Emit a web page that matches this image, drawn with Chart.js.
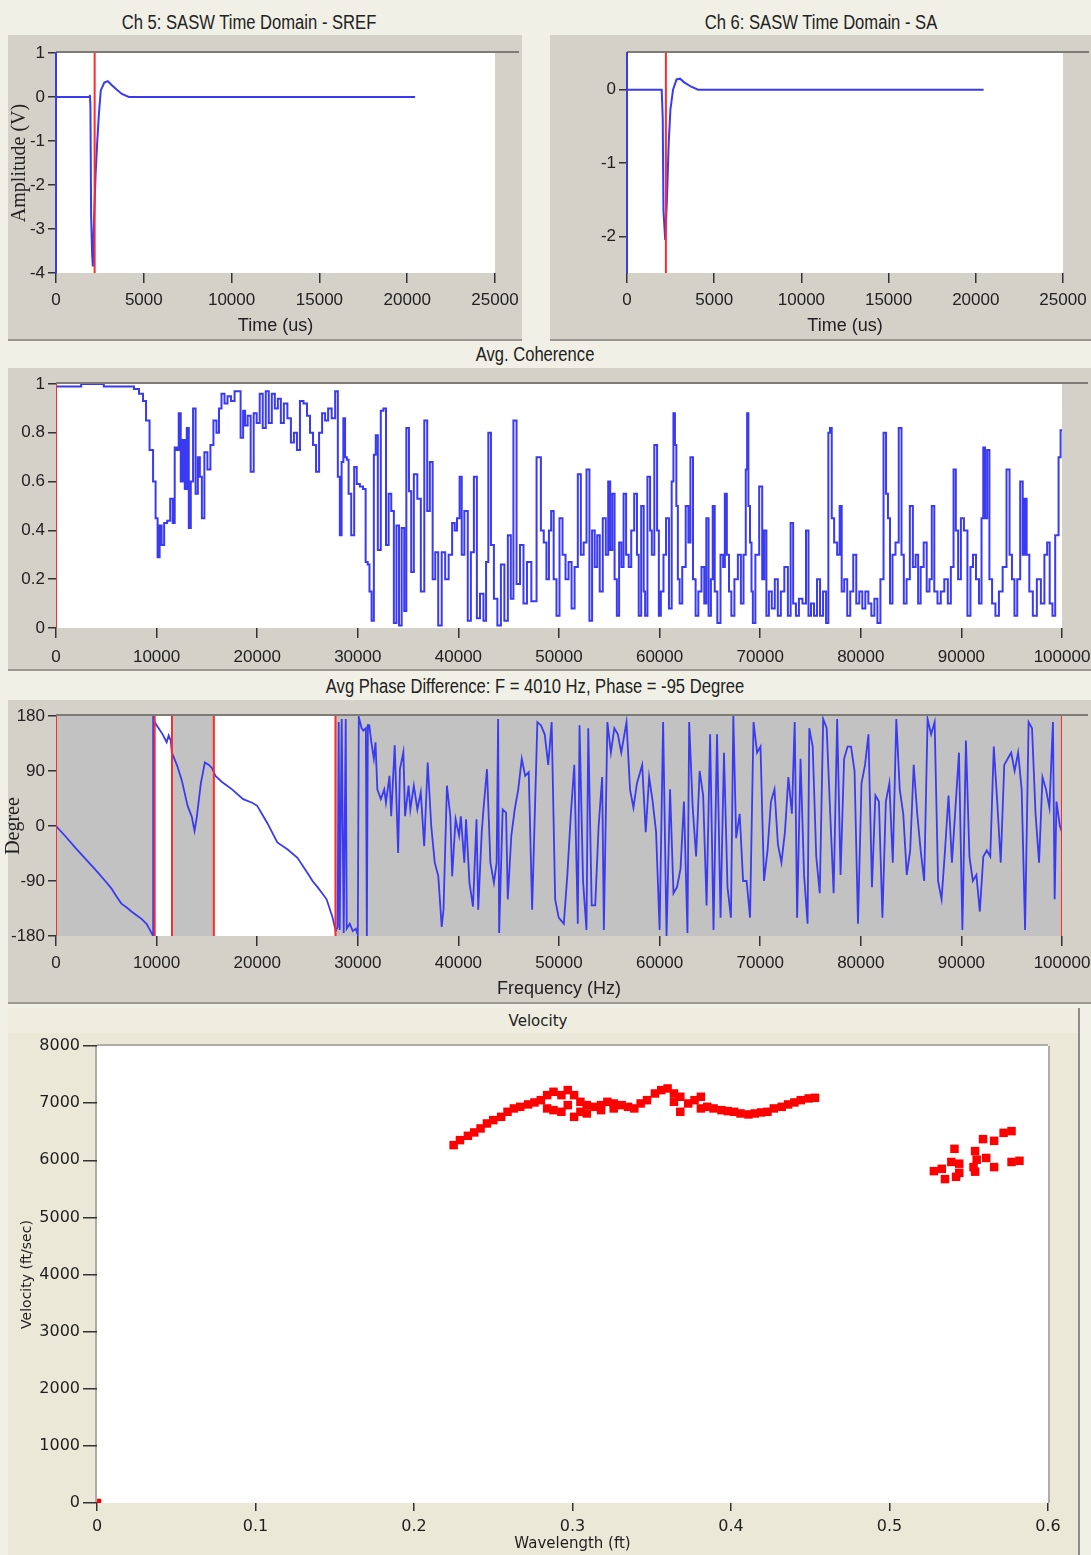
<!DOCTYPE html>
<html>
<head>
<meta charset="utf-8">
<title>SASW</title>
<script src="https://cdn.jsdelivr.net/npm/chart.js@4.4.1/dist/chart.umd.min.js"></script>
<style>
  body { margin: 0; width: 1091px; height: 1555px; position: relative; overflow: hidden; background: #f1f0e6;
         font-family: "Liberation Sans", Arial, sans-serif; }
  .panel { position: absolute; background: #d4d1c9; border-bottom: 2px solid #9a9890; box-sizing: border-box; }
  .cap { position: absolute; color: #222; font-size: 20px; line-height: 24px; text-align: center; white-space: nowrap;
         transform: scaleX(0.83); transform-origin: center; }
  .box { position: absolute; }
</style>
</head>
<body>
<div class="panel" style="left:8px;top:35px;width:514px;height:306px"></div>
<div class="panel" style="left:550px;top:35px;width:541px;height:306px"></div>
<div class="panel" style="left:8px;top:368px;width:1083px;height:303px"></div>
<div class="panel" style="left:8px;top:700px;width:1083px;height:304px"></div>
<div style="position:absolute;left:8px;top:1008px;width:1070px;height:547px;background:#ebe8d7;border-right:2px solid #8e8c86"></div>
<div style="position:absolute;left:8px;top:1008px;width:1070px;height:25px;background:#efeddf"></div>

<div class="cap" style="left:49px;top:10px;width:400px">Ch 5: SASW Time Domain - SREF</div>
<div class="cap" style="left:621px;top:10px;width:400px">Ch 6: SASW Time Domain - SA</div>
<div class="cap" style="left:335px;top:342px;width:400px">Avg. Coherence</div>
<div class="cap" style="left:235px;top:674px;width:600px">Avg Phase Difference: F = 4010 Hz, Phase = -95 Degree</div>
<div class="cap" style="left:438px;top:1011px;width:200px;transform:none;font-family:'DejaVu Sans',Verdana,sans-serif;font-size:15px;line-height:20px">Velocity</div>

<div class="box" style="left:8px;top:35px;width:514px;height:305px"><canvas id="ch5"></canvas></div>
<div class="box" style="left:550px;top:35px;width:541px;height:305px"><canvas id="ch6"></canvas></div>
<div class="box" style="left:8px;top:368px;width:1083px;height:302px"><canvas id="coherence"></canvas></div>
<div class="box" style="left:2px;top:700px;width:1089px;height:303px"><canvas id="phase"></canvas></div>
<div class="box" style="left:8px;top:1033px;width:1070px;height:522px"><canvas id="velocity"></canvas></div>

<script>
var sans = '"Liberation Sans", Arial, sans-serif';
var serif = '"Liberation Serif", "Times New Roman", serif';
var plain = '"DejaVu Sans", Verdana, sans-serif';

// time domain, both channels
var ch5Time = [0, 1900, 1930, 1960, 2000, 2060, 2100, 2150, 2250, 2300, 2350, 2450, 2550, 2750, 2950, 3150, 3450, 3750, 4150, 20450];
var ch5Amp = [0, 0, 0.05, -0.2, -2.7, -3.6, -3.85, -3.0, -1.8, -1.4, -1.0, -0.35, 0.15, 0.33, 0.36, 0.28, 0.17, 0.07, 0, 0];
var ch5Cursor = 2200;
var ch6Time = [0, 1990, 2050, 2090, 2190, 2290, 2390, 2490, 2640, 2840, 3040, 3280, 3680, 4080, 20450];
var ch6Amp = [0, 0, -0.4, -1.64, -2.05, -1.5, -0.73, -0.27, 0, 0.14, 0.15, 0.1, 0.04, 0, 0];
var ch6Cursor = 2230;
var timeTicks = [0, 5000, 10000, 15000, 20000, 25000];
var ch5AmpTicks = [1, 0, -1, -2, -3, -4];
var ch6AmpTicks = [0, -1, -2];

// coherence
var cohFreq = [
  0, 500, 1000, 2000, 3000, 3500, 4500, 5000, 6000, 7000,
  7500, 8000, 8500, 8800, 9100, 9500, 9800, 10000, 10200, 10400,
  10600, 10900, 11200, 11500, 11700, 11900, 12100, 12300, 12500, 12700,
  12900, 13100, 13300, 13500, 13750, 14000, 14200, 14400, 14600, 14900,
  15200, 15500, 15800, 16100, 16300, 16600, 16900, 17200, 17600, 17900,
  18200, 18500, 18700, 18900, 19200, 19500, 19800, 20100, 20400, 20700,
  21000, 21300, 21600, 21900, 22200, 22500, 22800, 23200, 23500, 23800,
  24100, 24400, 24800, 25100, 25400, 25700, 26000, 26300, 26600, 26900,
  27200, 27600, 27900, 28130, 28300, 28480, 28650, 28820, 29000, 29170,
  29520, 29760, 30030, 30380, 30660, 30900, 31070, 31250, 31490, 31700,
  31870, 32110, 32460, 32630, 32980, 33150, 33500, 33670, 34010, 34190,
  34530, 34700, 34950, 35220, 35400, 35740, 36090, 36440, 36780, 37020,
  37300, 37580, 37820, 38170, 38510, 38860, 39200, 39550, 39720, 40000,
  40240, 40420, 40760, 41100, 41380, 41700, 41970, 42320, 42660, 42840,
  43110, 43360, 43700, 44050, 44400, 44740, 45090, 45330, 45610, 45950,
  46300, 46640, 46990, 47510, 48030, 48370, 48600, 48900, 49100, 49340,
  49600, 49900, 50200, 50500, 50800, 51100, 51400, 51700, 52040, 52300,
  52600, 52870, 53180, 53400, 53700, 53900, 54200, 54500, 54800, 54980,
  55200, 55400, 55650, 55850, 56100, 56300, 56540, 56800, 57060, 57300,
  57650, 57850, 58000, 58340, 58500, 58620, 58960, 59150, 59300, 59650,
  59850, 60000, 60250, 60520, 60760, 61100, 61300, 61450, 61600, 61730,
  61900, 62080, 62420, 62770, 62950, 63180, 63460, 63700, 64000, 64330,
  64550, 64740, 65000, 65200, 65360, 65600, 65880, 66230, 66400, 66570,
  66800, 67000, 67270, 67600, 67960, 68200, 68480, 68650, 68750, 68900,
  69070, 69200, 69340, 69700, 70100, 70300, 70500, 70730, 71000, 71300,
  71600, 71900, 72200, 72600, 72900, 73150, 73400, 73700, 74000, 74400,
  74700, 74900, 75200, 75500, 75800, 76100, 76400, 76700, 76850, 77020,
  77200, 77500, 77800, 78000, 78200, 78500, 78800, 79100, 79400, 79700,
  80000, 80300, 80600, 80900, 81200, 81500, 81800, 82100, 82420, 82600,
  82800, 83000, 83300, 83600, 83940, 84150, 84400, 84700, 85050, 85300,
  85600, 85800, 86100, 86400, 86700, 86950, 87160, 87450, 87800, 88100,
  88500, 88800, 89100, 89340, 89550, 89800, 90100, 90400, 90800, 91000,
  91300, 91600, 91900, 92100, 92250, 92450, 92670, 92900, 93200, 93560,
  93900, 94300, 94670, 94900, 95150, 95400, 95700, 95990, 96200, 96370,
  96600, 96900, 97300, 97700, 98100, 98400, 98650, 98900, 99200, 99450,
  99600, 99720, 100000
];
var cohVal = [
  0.99, 0.99, 0.99, 0.99, 1.0, 1.0, 1.0, 0.99, 0.99, 0.99,
  0.99, 0.98, 0.96, 0.93, 0.85, 0.73, 0.6, 0.45, 0.29, 0.42,
  0.34, 0.43, 0.44, 0.53, 0.43, 0.74, 0.73, 0.88, 0.6, 0.77,
  0.57, 0.82, 0.41, 0.6, 0.9, 0.55, 0.7, 0.62, 0.45, 0.72,
  0.65, 0.75, 0.85, 0.8, 0.9, 0.96, 0.92, 0.95, 0.93, 0.97,
  0.97, 0.78, 0.89, 0.83, 0.87, 0.64, 0.88, 0.84, 0.96, 0.82,
  0.97, 0.84, 0.96, 0.9, 0.94, 0.84, 0.92, 0.86, 0.76, 0.8,
  0.73, 0.93, 0.92, 0.87, 0.8, 0.75, 0.64, 0.8, 0.88, 0.85,
  0.9, 0.86, 0.97, 0.62, 0.38, 0.68, 0.86, 0.7, 0.69, 0.55,
  0.38, 0.66, 0.59, 0.58, 0.57, 0.27, 0.26, 0.15, 0.03, 0.71,
  0.79, 0.32, 0.89, 0.9, 0.34, 0.55, 0.48, 0.02, 0.42, 0.01,
  0.41, 0.07, 0.82, 0.56, 0.23, 0.63, 0.53, 0.15, 0.85, 0.48,
  0.68, 0.2, 0.31, 0.01, 0.31, 0.2, 0.3, 0.43, 0.4, 0.45,
  0.62, 0.3, 0.48, 0.03, 0.31, 0.62, 0.04, 0.14, 0.03, 0.27,
  0.8, 0.34, 0.12, 0.01, 0.26, 0.03, 0.38, 0.12, 0.85, 0.18,
  0.34, 0.1, 0.27, 0.11, 0.7, 0.4, 0.35, 0.2, 0.4, 0.48,
  0.2, 0.05, 0.45, 0.3, 0.2, 0.27, 0.08, 0.25, 0.63, 0.3,
  0.35, 0.65, 0.03, 0.4, 0.25, 0.38, 0.15, 0.45, 0.3, 0.6,
  0.32, 0.55, 0.2, 0.05, 0.35, 0.25, 0.55, 0.3, 0.25, 0.4,
  0.55, 0.3, 0.05, 0.5, 0.15, 0.05, 0.62, 0.4, 0.3, 0.75,
  0.4, 0.05, 0.15, 0.3, 0.45, 0.08, 0.6, 0.88, 0.75, 0.5,
  0.2, 0.1, 0.25, 0.5, 0.35, 0.7, 0.2, 0.05, 0.15, 0.25,
  0.1, 0.45, 0.05, 0.2, 0.5, 0.15, 0.02, 0.3, 0.25, 0.55,
  0.3, 0.15, 0.05, 0.2, 0.3, 0.1, 0.3, 0.65, 0.88, 0.5,
  0.35, 0.15, 0.02, 0.3, 0.58, 0.2, 0.4, 0.05, 0.15, 0.08,
  0.2, 0.05, 0.15, 0.25, 0.05, 0.43, 0.1, 0.05, 0.12, 0.1,
  0.4, 0.05, 0.1, 0.05, 0.2, 0.05, 0.15, 0.02, 0.8, 0.82,
  0.45, 0.35, 0.3, 0.5, 0.15, 0.2, 0.05, 0.15, 0.3, 0.1,
  0.15, 0.08, 0.15, 0.1, 0.05, 0.12, 0.02, 0.2, 0.8, 0.55,
  0.45, 0.1, 0.3, 0.35, 0.82, 0.3, 0.1, 0.2, 0.5, 0.25,
  0.3, 0.1, 0.25, 0.35, 0.15, 0.2, 0.5, 0.15, 0.1, 0.15,
  0.2, 0.1, 0.25, 0.65, 0.4, 0.2, 0.45, 0.4, 0.05, 0.25,
  0.3, 0.2, 0.1, 0.45, 0.74, 0.45, 0.73, 0.2, 0.1, 0.05,
  0.15, 0.25, 0.65, 0.3, 0.2, 0.05, 0.2, 0.6, 0.3, 0.53,
  0.3, 0.15, 0.05, 0.2, 0.1, 0.3, 0.35, 0.1, 0.05, 0.38,
  0.38, 0.7, 0.81
];
var cohCursors = [0];
var freqTicks = [0, 10000, 20000, 30000, 40000, 50000, 60000, 70000, 80000, 90000, 100000];
var cohTicks = [0, 0.2, 0.4, 0.6, 0.8, 1];

// phase difference
var phaseFreq = [
  0, 1000, 2000, 3000, 4000, 5000, 5500, 6000, 6500, 7000,
  7500, 8000, 8500, 9000, 9400, 9650, 9660, 9800, 10200, 10600,
  11000, 11200, 11400, 11520, 12040, 12500, 13080, 13500, 13770, 14000,
  14400, 14800, 15200, 15500, 15850, 16500, 17500, 18600, 19500, 20000,
  21000, 22000, 23000, 24000, 25000, 25500, 26000, 26900, 27500, 27800,
  28000, 28100, 28200, 28400, 28600, 28800, 28900, 29200, 29500, 29800,
  30000, 30100, 30380, 30550, 30800, 30900, 31000, 31140, 31350, 31600,
  31760, 31940, 32290, 32630, 32800, 33150, 33320, 33670, 34010, 34190,
  34530, 34700, 35050, 35220, 35570, 35920, 36260, 36600, 36950, 37300,
  37650, 38000, 38340, 38520, 38860, 39200, 39380, 39720, 40070, 40240,
  40590, 40760, 41100, 41450, 41800, 41970, 42320, 42490, 42840, 43180,
  43530, 43800, 43950, 44050, 44400, 44740, 44910, 45260, 45600, 45950,
  46300, 46640, 46990, 47330, 47850, 48200, 48580, 48930, 49270, 49620,
  49970, 50480, 50830, 51180, 51520, 51870, 52040, 52390, 52730, 52910,
  53250, 53600, 53940, 54290, 54460, 54810, 55160, 55500, 55850, 56190,
  56710, 57060, 57400, 57750, 58270, 58620, 58960, 59310, 59650, 60000,
  60350, 60690, 61040, 61380, 61730, 62080, 62420, 62770, 62940, 63290,
  63630, 63980, 64330, 64670, 65020, 65360, 65710, 66060, 66400, 66750,
  67090, 67330, 67610, 67960, 68300, 68650, 68990, 69340, 69690, 70030,
  70380, 70730, 71070, 71420, 71760, 72110, 72460, 72800, 73150, 73430,
  73670, 74010, 74360, 74710, 74880, 75220, 75570, 75920, 76260, 76610,
  76960, 77300, 77650, 77990, 78340, 78690, 79030, 79380, 79720, 80070,
  80420, 80760, 81110, 81450, 81800, 82150, 82490, 82840, 83180, 83530,
  83870, 84220, 84570, 84910, 85260, 85610, 85950, 86300, 86640, 86990,
  87340, 87680, 88030, 88370, 88720, 89060, 89410, 89760, 90100, 90450,
  90800, 91140, 91490, 91830, 92180, 92530, 92870, 93220, 93560, 93910,
  94260, 94600, 94950, 95290, 95640, 95990, 96330, 96680, 97020, 97370,
  97720, 98060, 98410, 98750, 99100, 99270, 99450, 99790, 100000
];
var phaseDeg = [
  0, -18, -37, -55, -73, -92, -102, -115, -127, -133,
  -140, -146, -152, -160, -172, -180, 180, 170, 160, 150,
  137, 148, 140, 120, 99, 75, 33, 15, -8, 15,
  70, 104, 100, 95, 82, 72, 60, 44, 38, 33,
  5, -27, -38, -52, -77, -90, -100, -120, -150, -172,
  -165, 170, -170, 175, -175, 175, -168, -160, -172, -168,
  -178, 178, 160, 156, 160, -180, 165, 165, 137, 110,
  137, 60, 44, 60, 38, 82, 16, 132, -44, 93,
  121, 16, 66, 27, 66, 27, 55, -33, 104, 0,
  -60, -82, -165, -137, 66, 16, -82, 11, -16, 16,
  -60, 11, -93, -132, 11, -137, -10, 27, 93, -60,
  -93, -60, 175, -175, 27, 22, -120, -16, 27, 60,
  110, 82, 88, -137, 170, 165, 150, 100, 170, -120,
  -150, -160, -80, 20, 100, -160, 165, -90, -170, 160,
  -130, -130, 0, 80, -170, 170, 120, 160, 150, 120,
  170, 60, 30, 70, 100, -10, 80, 40, -10, -170,
  170, -180, 60, -110, -100, -70, 40, -175, 170, 30,
  -50, 90, 50, -130, 150, -170, 150, -150, 120, -100,
  -150, 180, -20, 20, -90, -90, -150, 170, 120, 130,
  -90, -40, 40, 60, -30, -60, -10, 80, 20, 170,
  -150, 110, -80, -160, 160, 130, -50, -110, 175, 160,
  20, -110, 175, -80, 110, 130, 130, 90, -160, 70,
  100, 150, -100, 50, 40, -150, 40, 70, -60, 175,
  60, 20, -80, -40, 100, 20, -40, -90, 175, 150,
  170, -90, -120, -40, 50, -60, 30, 120, -170, 140,
  -50, -90, -80, -140, -50, -40, -50, 130, 40, -60,
  100, 110, 120, 90, 120, 60, -170, 170, 160, 20,
  -60, 80, 60, 30, 170, -120, 40, 0, -10
];
var phaseCursors = [0, 9810, 11530, 15690, 27780, 100000];
var phaseBands = [[9810, 11530], [15690, 27780]];
var phaseTicks = [180, 90, 0, -90, -180];

// dispersion: wavelength (ft) vs velocity (ft/sec)
var velWave = [
  0, 0.225, 0.229, 0.234, 0.238, 0.242, 0.246, 0.250, 0.255, 0.259,
  0.263, 0.267, 0.272, 0.276, 0.280, 0.284, 0.284, 0.288, 0.288, 0.293,
  0.293, 0.297, 0.297, 0.301, 0.301, 0.305, 0.305, 0.309, 0.309, 0.314,
  0.318, 0.318, 0.322, 0.326, 0.326, 0.331, 0.335, 0.339, 0.343, 0.347,
  0.352, 0.356, 0.360, 0.364, 0.364, 0.368, 0.368, 0.373, 0.377, 0.381,
  0.381, 0.385, 0.389, 0.394, 0.398, 0.402, 0.406, 0.411, 0.415, 0.419,
  0.423, 0.427, 0.432, 0.436, 0.440, 0.444, 0.449, 0.453,
  0.577, 0.572, 0.566, 0.559, 0.541, 0.554, 0.561, 0.555, 0.539, 0.544,
  0.553, 0.566, 0.577, 0.582, 0.533, 0.528, 0.544, 0.554, 0.535, 0.542
];
var velSpeed = [
  0, 6265, 6352, 6428, 6487, 6557, 6644, 6702, 6760, 6848,
  6907, 6935, 6977, 7012, 7052, 7140, 6907, 7198, 6877, 7140,
  6848, 7228, 6965, 7140, 6760, 7023, 6848, 6965, 6819, 6935,
  6965, 6877, 7023, 6994, 6907, 6965, 6935, 6907, 6994, 7052,
  7169, 7228, 7257, 7169, 7023, 6848, 7111, 6994, 7052, 7111,
  6907, 6935, 6907, 6877, 6860, 6848, 6819, 6802, 6819, 6837,
  6848, 6907, 6935, 6977, 7012, 7052, 7082, 7093,
  6510, 6480, 6340, 6370, 6200, 6160, 6040, 6010, 5970, 5940,
  5880, 5880, 5970, 5990, 5850, 5810, 5780, 5800, 5670, 5710
];
var waveTicks = [0, 0.1, 0.2, 0.3, 0.4, 0.5, 0.6];
var speedTicks = [0, 1000, 2000, 3000, 4000, 5000, 6000, 7000, 8000];

var blue = '#3a3af2';
var red = '#ff2a2a';

function toPoints(xs, ys) {
  return xs.map(function (x, i) { return { x: x, y: ys[i] }; });
}

function cursorLine(x, y0, y1) {
  return { data: [{ x: x, y: y0 }, { x: x, y: y1 }], borderColor: red, borderWidth: 2, pointRadius: 0 };
}

function signalLine(xs, ys, width, stepped) {
  return { data: toPoints(xs, ys), borderColor: blue, borderWidth: width, pointRadius: 0, stepped: stepped || false };
}

// white (or gray) plot area, optional white bands, and the sunken frame line
var plotFrame = {
  id: 'plotFrame',
  beforeDraw: function (chart, args, opts) {
    var a = chart.chartArea, ctx = chart.ctx;
    ctx.save();
    ctx.fillStyle = opts.fill;
    ctx.fillRect(a.left, a.top, a.right - a.left, a.bottom - a.top);
    if (opts.bands) {
      var xs = chart.scales.x;
      ctx.fillStyle = '#ffffff';
      opts.bands.forEach(function (b) {
        var x0 = xs.getPixelForValue(b[0]), x1 = xs.getPixelForValue(b[1]);
        ctx.fillRect(x0, a.top, x1 - x0, a.bottom - a.top);
      });
    }
    ctx.strokeStyle = opts.edge;
    ctx.lineWidth = 2;
    ctx.beginPath();
    ctx.moveTo(a.left, a.top - 1);
    ctx.lineTo(a.right + (opts.extend || 0), a.top - 1);
    if (opts.sides) {
      ctx.moveTo(a.left - 1, a.top);
      ctx.lineTo(a.left - 1, a.bottom);
      ctx.moveTo(a.right + 1, a.top);
      ctx.lineTo(a.right + 1, a.bottom);
    }
    ctx.stroke();
    ctx.restore();
  }
};

function axis(tickList, min, max, o) {
  return {
    type: 'linear',
    min: min,
    max: max,
    afterBuildTicks: function (s) {
      s.ticks = tickList.map(function (v) { return { value: v }; });
    },
    afterFit: function (s) {
      if (o.width) s.width = o.width;
      if (o.height) s.height = o.height;
      // labels may hang into the layout padding, don't let them shrink the plot
      s.paddingLeft = 0;
      s.paddingRight = 0;
      s.paddingTop = 0;
      s.paddingBottom = 0;
    },
    grid: { drawOnChartArea: false, drawTicks: true, tickLength: o.tickLength || 8, color: o.tickColor || '#333', lineWidth: 1.5 },
    border: { display: !!o.border, color: o.border, width: 2 },
    ticks: {
      autoSkip: false, maxRotation: 0, padding: o.pad || 3, color: o.color || '#222', font: o.font,
      callback: function (v) { return String(v); }
    },
    title: o.title
      ? { display: true, text: o.title, color: o.color || '#222', font: o.titleFont, padding: o.titlePad || 0 }
      : { display: false }
  };
}

function makeChart(id, type, datasets, scales, pad, frame) {
  return new Chart(document.getElementById(id), {
    type: type,
    data: { datasets: datasets },
    options: {
      animation: false,
      responsive: true,
      maintainAspectRatio: false,
      events: [],
      parsing: false,
      layout: { padding: pad },
      plugins: { legend: { display: false }, tooltip: { enabled: false }, plotFrame: frame },
      scales: scales,
      elements: { line: { tension: 0 } }
    },
    plugins: [plotFrame]
  });
}

var tickFont = { family: sans, size: 17 };
var titleFont = { family: sans, size: 18 };
var serifFont = { family: serif, size: 20 };

makeChart('ch5', 'line',
  [cursorLine(ch5Cursor, -4, 1), signalLine(ch5Time, ch5Amp, 2)],
  {
    x: axis(timeTicks, 0, 25000, { height: 64, tickLength: 10, pad: 7, font: tickFont, title: 'Time (us)', titleFont: titleFont }),
    y: axis(ch5AmpTicks, -4, 1, { width: 48, font: tickFont, border: blue, title: 'Amplitude (V)', titleFont: serifFont })
  },
  { left: 0, top: 18, right: 27, bottom: 3 },
  { fill: '#ffffff', edge: '#7d7b76', extend: 24 });

makeChart('ch6', 'line',
  [cursorLine(ch6Cursor, -2.5, 0.5), signalLine(ch6Time, ch6Amp, 2)],
  {
    x: axis(timeTicks, 0, 25000, { height: 64, tickLength: 10, pad: 7, font: tickFont, title: 'Time (us)', titleFont: titleFont }),
    y: axis(ch6AmpTicks, -2.5, 0.5, { width: 77, font: tickFont, border: blue })
  },
  { left: 0, top: 18, right: 28, bottom: 3 },
  { fill: '#ffffff', edge: '#7d7b76', extend: 26 });

makeChart('coherence', 'line',
  cohCursors.map(function (f) { return cursorLine(f, 0, 1); }).concat([signalLine(cohFreq, cohVal, 2, 'middle')]),
  {
    x: axis(freqTicks, 0, 100000, { height: 40, tickLength: 10, pad: 9, font: tickFont }),
    y: axis(cohTicks, 0, 1, { width: 48, font: tickFont })
  },
  { left: 0, top: 16, right: 29, bottom: 2 },
  { fill: '#ffffff', edge: '#7d7b76', extend: 26 });

makeChart('phase', 'line',
  phaseCursors.map(function (f) { return cursorLine(f, -180, 180); }).concat([signalLine(phaseFreq, phaseDeg, 1.8)]),
  {
    x: axis(freqTicks, 0, 100000, { height: 64, tickLength: 10, pad: 7, font: tickFont, title: 'Frequency (Hz)', titleFont: titleFont }),
    y: axis(phaseTicks, -180, 180, { width: 54, font: tickFont, title: 'Degree', titleFont: serifFont })
  },
  { left: 0, top: 16, right: 29, bottom: 3 },
  { fill: '#c2c2c2', bands: phaseBands, edge: '#7d7b76', extend: 26 });

makeChart('velocity', 'scatter',
  [{ data: toPoints(velWave, velSpeed), pointStyle: 'rect', pointRadius: 6, backgroundColor: '#ff0000', borderColor: '#ff0000', borderWidth: 0 }],
  {
    x: axis(waveTicks, 0, 0.6, { height: 50, tickLength: 8, pad: 6, color: '#1e1e1e', font: { family: plain, size: 16 },
      title: 'Wavelength (ft)', titleFont: { family: plain, size: 15 } }),
    y: axis(speedTicks, 0, 8000, { width: 89, tickLength: 14, pad: 3, color: '#1e1e1e', font: { family: plain, size: 16 },
      title: 'Velocity (ft/sec)', titleFont: { family: plain, size: 14 }, titlePad: 11 })
  },
  { left: 0, top: 13, right: 30, bottom: 2 },
  { fill: '#ffffff', edge: '#aeaca4', sides: true });
</script>
</body>
</html>
